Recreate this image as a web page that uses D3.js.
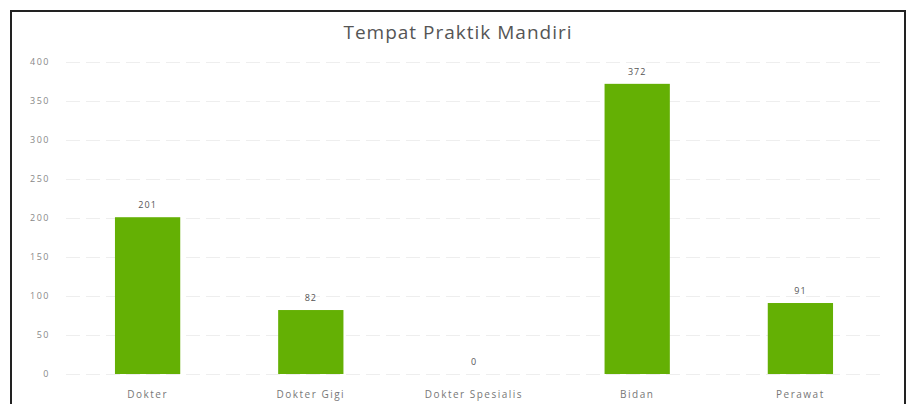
<!DOCTYPE html>
<html>
<head>
<meta charset="utf-8">
<script src="https://cdn.jsdelivr.net/npm/d3@7"></script>
<style>
  body { margin: 0; background: #fff; }
  svg { display: block; font-family: "Open Sans", sans-serif; }
</style>
</head>
<body>
<div id="chart"></div>
<script>
const categories = ["Dokter", "Dokter Gigi", "Dokter Spesialis", "Bidan", "Perawat"];
const values = [201, 82, 0, 372, 91];
const yTicks = [0, 50, 100, 150, 200, 250, 300, 350, 400];
const title = "Tempat Praktik Mandiri";

const width = 910;
const height = 404;
const plot = { left: 66, right: 882, top: 62, bottom: 374 };

const svg = d3
  .select("#chart")
  .append("svg")
  .attr("width", width)
  .attr("height", height);

// frame of the scanned box
svg
  .append("path")
  .attr("d", `M11,${height + 5}V11H905V${height + 5}`)
  .attr("fill", "none")
  .attr("stroke", "#222")
  .attr("stroke-width", 2);

const xScale = d3
  .scaleBand()
  .domain(categories)
  .range([plot.left, plot.right])
  .paddingInner(0.6)
  .paddingOuter(0.3);

const yScale = d3
  .scaleLinear()
  .domain([0, 400])
  .range([plot.bottom, plot.top]);

svg
  .append("text")
  .attr("x", 458)
  .attr("y", 39)
  .attr("text-anchor", "middle")
  .attr("font-size", 19)
  .attr("letter-spacing", 1)
  .attr("fill", "#555")
  .text(title);

// gridlines + y labels
const yAxis = d3
  .axisLeft(yScale)
  .tickValues(yTicks)
  .tickSize(-(plot.right - plot.left))
  .tickPadding(16);

svg
  .append("g")
  .attr("transform", `translate(${plot.left},0)`)
  .call(yAxis)
  .call((g) => g.select(".domain").remove())
  .call((g) =>
    g
      .selectAll(".tick line")
      .attr("stroke", "#eeeeee")
      .attr("stroke-dasharray", "14,6")
  )
  .call((g) =>
    g
      .selectAll(".tick text")
      .attr("font-size", 9)
      .attr("letter-spacing", 1.5)
      .attr("font-family", "Open Sans, sans-serif")
      .attr("fill", "#888")
  );

// bars
svg
  .append("g")
  .selectAll("rect")
  .data(values)
  .join("rect")
  .attr("x", (d, i) => xScale(categories[i]))
  .attr("y", (d) => yScale(d))
  .attr("width", xScale.bandwidth())
  .attr("height", (d) => yScale(0) - yScale(d))
  .attr("fill", "#64b004");

// value labels
svg
  .append("g")
  .selectAll("text")
  .data(values)
  .join("text")
  .attr("x", (d, i) => xScale(categories[i]) + xScale.bandwidth() / 2)
  .attr("y", (d) => yScale(d) - 9)
  .attr("text-anchor", "middle")
  .attr("font-size", 9)
  .attr("letter-spacing", 1)
  .attr("fill", "#555")
  .text((d) => d);

// category labels
const xAxis = d3.axisBottom(xScale).tickSize(0).tickPadding(17);

svg
  .append("g")
  .attr("transform", `translate(0,${plot.bottom})`)
  .call(xAxis)
  .call((g) => g.select(".domain").remove())
  .call((g) =>
    g
      .selectAll(".tick text")
      .attr("font-size", 10)
      .attr("letter-spacing", 1.5)
      .attr("font-family", "Open Sans, sans-serif")
      .attr("fill", "#777")
  );
</script>
</body>
</html>
